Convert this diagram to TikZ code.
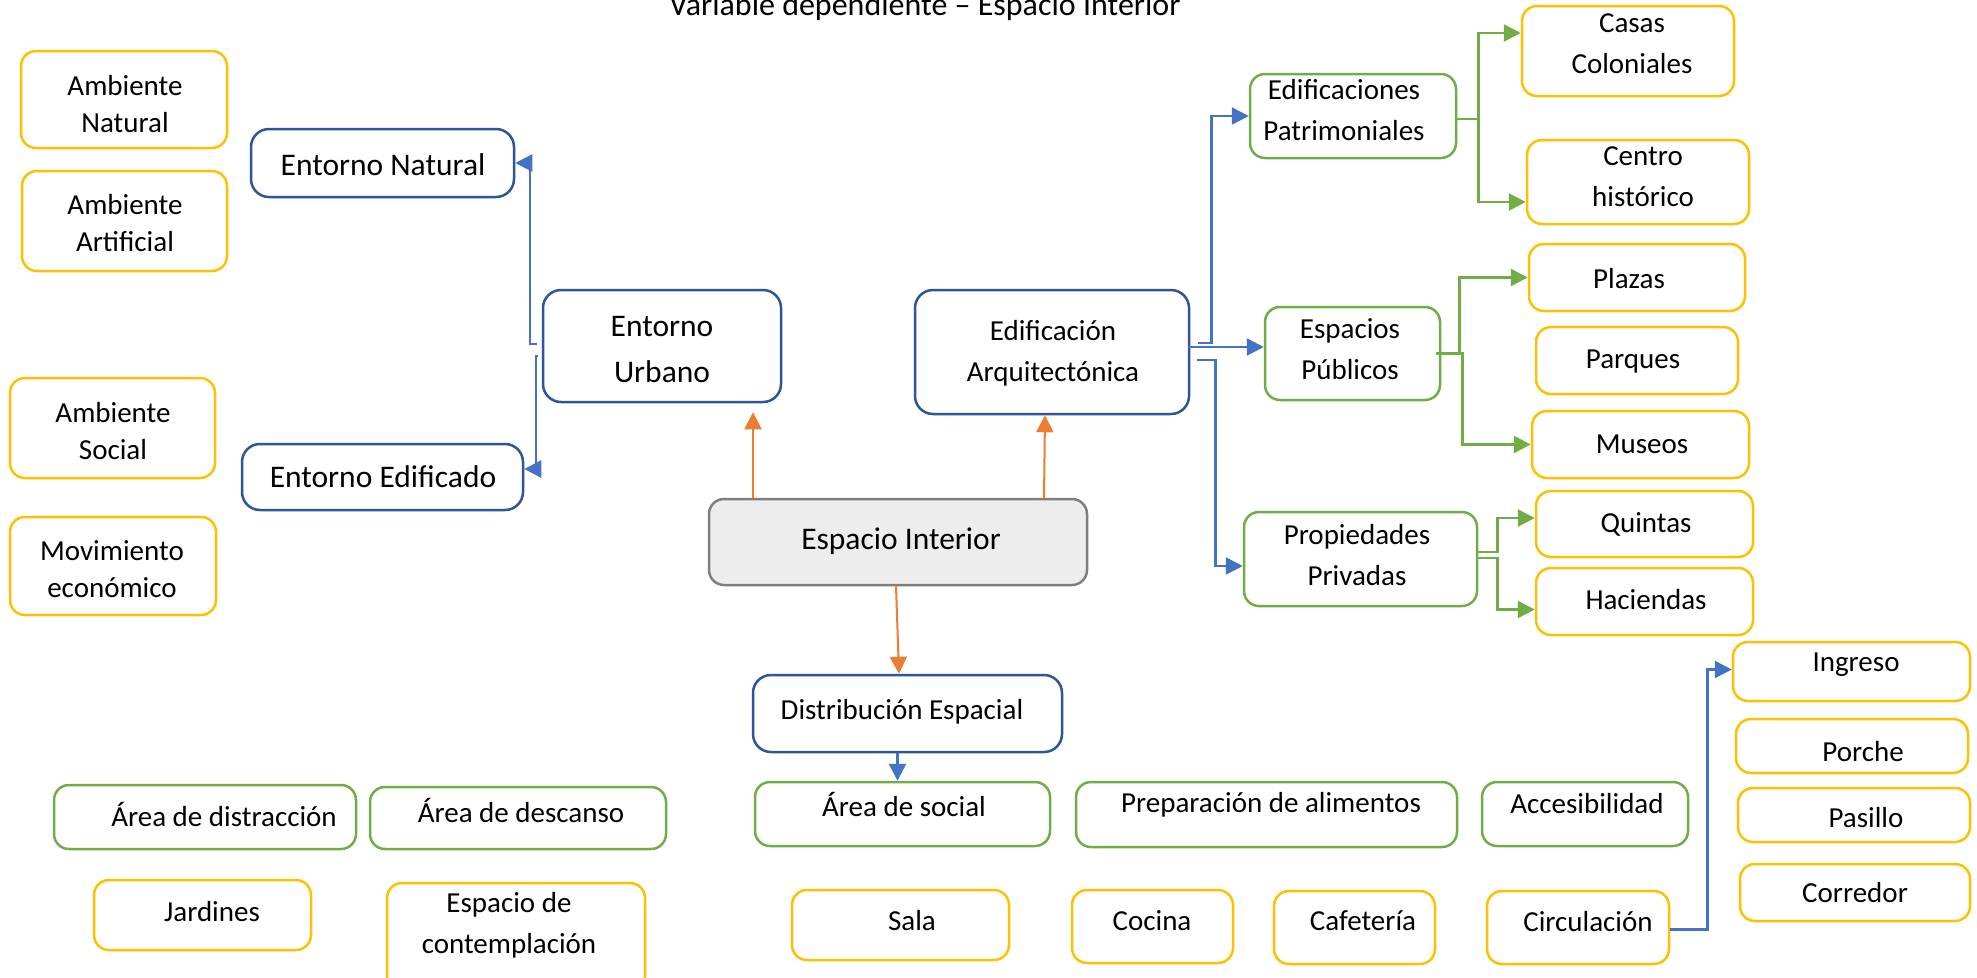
\documentclass[tikz,border=0pt]{standalone}
\usepackage{fontspec}
\setmainfont{Carlito}
\usetikzlibrary{arrows.meta}
\definecolor{cy}{HTML}{FFC000}
\definecolor{cg}{HTML}{70AD47}
\definecolor{cb}{HTML}{2F5597}
\definecolor{ca}{HTML}{4472C4}
\definecolor{co}{HTML}{ED7D31}
\definecolor{cgr}{HTML}{7F7F7F}
\definecolor{cfill}{HTML}{EDEDED}
\newcommand\bx[9]{%
  \node[#1, minimum width={#5-#3}, minimum height={#6-#4}] (#2) at ({(#3+#5)/2},{-(#4+#6)/2}) {};
  \node[#1-t] (#2t) at (#7,-#8) {#9};}
\tikzset{
  basebox/.style={draw, line width=2.5pt, rounded corners=15pt, inner sep=0pt, fill=white},
  ybox/.style={basebox, draw=cy},
  yboxA/.style={basebox, draw=cy},
  gbox/.style={basebox, draw=cg},
  bbox/.style={basebox, draw=cb, rounded corners=18pt},
  bboxL/.style={basebox, draw=cb, rounded corners=18pt},
  grbox/.style={basebox, draw=cgr, fill=cfill},
  tnorm/.style={inner sep=0pt, align=center, font=\fontsize{29}{41}\selectfont},
  ybox-t/.style={tnorm},
  gbox-t/.style={tnorm},
  bbox-t/.style={tnorm},
  yboxA-t/.style={tnorm, font=\fontsize{29}{37}\selectfont},
  bboxL-t/.style={tnorm, font=\fontsize{31.5}{46}\selectfont},
  grbox-t/.style={tnorm, font=\fontsize{31.5}{46}\selectfont},
  tip/.style={-{Triangle[length=17pt,width=17pt]}},
  barr/.style={draw=ca, line width=2.5pt, tip},
  garr/.style={draw=cg, line width=2.5pt, tip},
  oarr/.style={draw=co, line width=2pt, tip},
}
\begin{document}
\begin{tikzpicture}[x=1pt,y=1pt]
\useasboundingbox (0,0) rectangle (1977,-977);
\fill[white] (0,0) rectangle (1977,-977);

\node[font=\fontsize{32}{38}\selectfont, anchor=base, inner sep=0pt] (title) at (925,-16) {Variable dependiente – Espacio Interior};

% left column
\bx{yboxA}{an}{21}{51}{227}{148}{125}{104}{Ambiente\\Natural}
\bx{yboxA}{aa}{22}{171}{227}{271}{125}{223}{Ambiente\\Artificial}
\bx{yboxA}{aso2}{10}{378}{215}{478}{113}{431}{Ambiente\\Social}
\bx{yboxA}{me}{10}{517}{216}{615}{112}{569}{Movimiento\\económico}

% blue level
\bx{bboxL}{en}{251}{129}{514}{197}{383}{165}{Entorno Natural}
\bx{bboxL}{eu}{543}{290}{781}{402}{662}{350}{Entorno\\Urbano}
\bx{bboxL}{ee}{242}{444}{523}{510}{383}{477}{Entorno Edificado}
\bx{bbox}{ea}{915}{290}{1189}{414}{1053}{353}{Edificación\\Arquitectónica}
\bx{grbox}{ei}{709}{499}{1087}{585}{901}{541}{Espacio Interior}
\bx{bbox}{de}{753}{675}{1062}{752}{902}{712}{Distribución Espacial}

% right side
\bx{gbox}{ep}{1250}{74}{1456}{158}{1344}{110}{Edificaciones\\Patrimoniales}
\bx{ybox}{cc}{1522}{6}{1734}{96}{1632}{44}{Casas\\Coloniales}
\bx{ybox}{ch}{1527}{140}{1749}{224}{1643}{177}{Centro\\histórico}
\bx{gbox}{es}{1265}{307}{1440}{400}{1350}{349}{Espacios\\Públicos}
\bx{ybox}{pl}{1529}{244}{1745}{311}{1629}{279}{Plazas}
\bx{ybox}{pq}{1536}{327}{1738}{394}{1633}{362}{Parques}
\bx{ybox}{mu}{1532}{411}{1749}{478}{1642}{444}{Museos}
\bx{gbox}{pp}{1244}{512}{1477}{606}{1357}{555}{Propiedades\\Privadas}
\bx{ybox}{qu}{1536}{491}{1753}{557}{1646}{524}{Quintas}
\bx{ybox}{ha}{1536}{568}{1753}{635}{1646}{600}{Haciendas}

% bottom
\bx{gbox}{ad}{54}{785}{356}{849}{224}{814}{Área de distracción}
\bx{gbox}{ads}{370}{787}{666}{849}{521}{810}{Área de descanso}
\bx{ybox}{ja}{94}{880}{311}{950}{212}{912}{Jardines}
\bx{ybox}{ec}{387}{883}{645}{992}{509}{925}{Espacio de\\contemplación}
\bx{gbox}{as}{755}{782}{1050}{846}{904}{804}{Área de social}
\bx{gbox}{pa}{1076}{782}{1457}{847}{1271}{805}{Preparación de alimentos}
\bx{gbox}{ac}{1482}{782}{1688}{846}{1587}{804}{Accesibilidad}
\bx{ybox}{sa}{792}{890}{1009}{960}{912}{921}{Sala}
\bx{ybox}{co}{1072}{890}{1233}{963}{1152}{921}{Cocina}
\bx{ybox}{cf}{1274}{891}{1435}{964}{1363}{921}{Cafetería}
\bx{ybox}{ci}{1487}{891}{1669}{964}{1588}{922}{Circulación}
\bx{ybox}{ig}{1733}{642}{1970}{701}{1856}{665}{Ingreso}
\bx{ybox}{po}{1736}{719}{1968}{773}{1863}{752}{Porche}
\bx{ybox}{ps}{1738}{788}{1970}{842}{1866}{818}{Pasillo}
\bx{ybox}{cr}{1740}{864}{1970}{921}{1855}{893}{Corredor}

% blue connectors
\draw[barr] ([xshift=-5,yshift=2]eu.west) -- ++(-7,0) |- (en.east);
\draw[barr] ([xshift=-4,yshift=-10]eu.west) -- ++(-2,0) |- ([yshift=8]ee.east);
\draw[barr] ([xshift=8,yshift=9]ea.east) -- ++(13,0) |- (ep.west);
\draw[barr] ([xshift=-2,yshift=5]ea.east) -- ([yshift=5]ea.east -| es.west);
\draw[barr] ([xshift=7,yshift=-8]ea.east) -- ++(18,0) |- ([yshift=-7]pp.west);
\draw[barr] ([xshift=-10]de.south) -- ([xshift=-5]as.north);
\draw[barr] ([yshift=-2]ci.east) -- ++(37,0) |- ([yshift=2]ig.west);

% green connectors
\draw[garr] ([yshift=-3]ep.east) -- ++(21,0) coordinate (j1) |- ([yshift=18]cc.west);
\draw[garr] (j1) |- ([yshift=-20]ch.west);
\draw[garr] ([xshift=-5,yshift=-0.5]es.east) -- ++(23,0) |- (pl.west);
\draw[garr] ([xshift=-5]es.east) -- ++(26,0) |- (mu.west);
\draw[garr] ([yshift=7]pp.east) -- ++(19,0) |- ([yshift=6]qu.west);
\draw[garr] ([yshift=1]pp.east) -- ++(19,0) |- ([yshift=-8]ha.west);

% orange connectors
\draw[oarr] ([xshift=-145]ei.north) -- ([xshift=91,yshift=-9]eu.south);
\draw[oarr] ([xshift=146]ei.north) -- ([xshift=-7]ea.south);
\draw[oarr] ([xshift=-2]ei.south) -- ([xshift=-8.5]de.north);
\end{tikzpicture}
\end{document}
